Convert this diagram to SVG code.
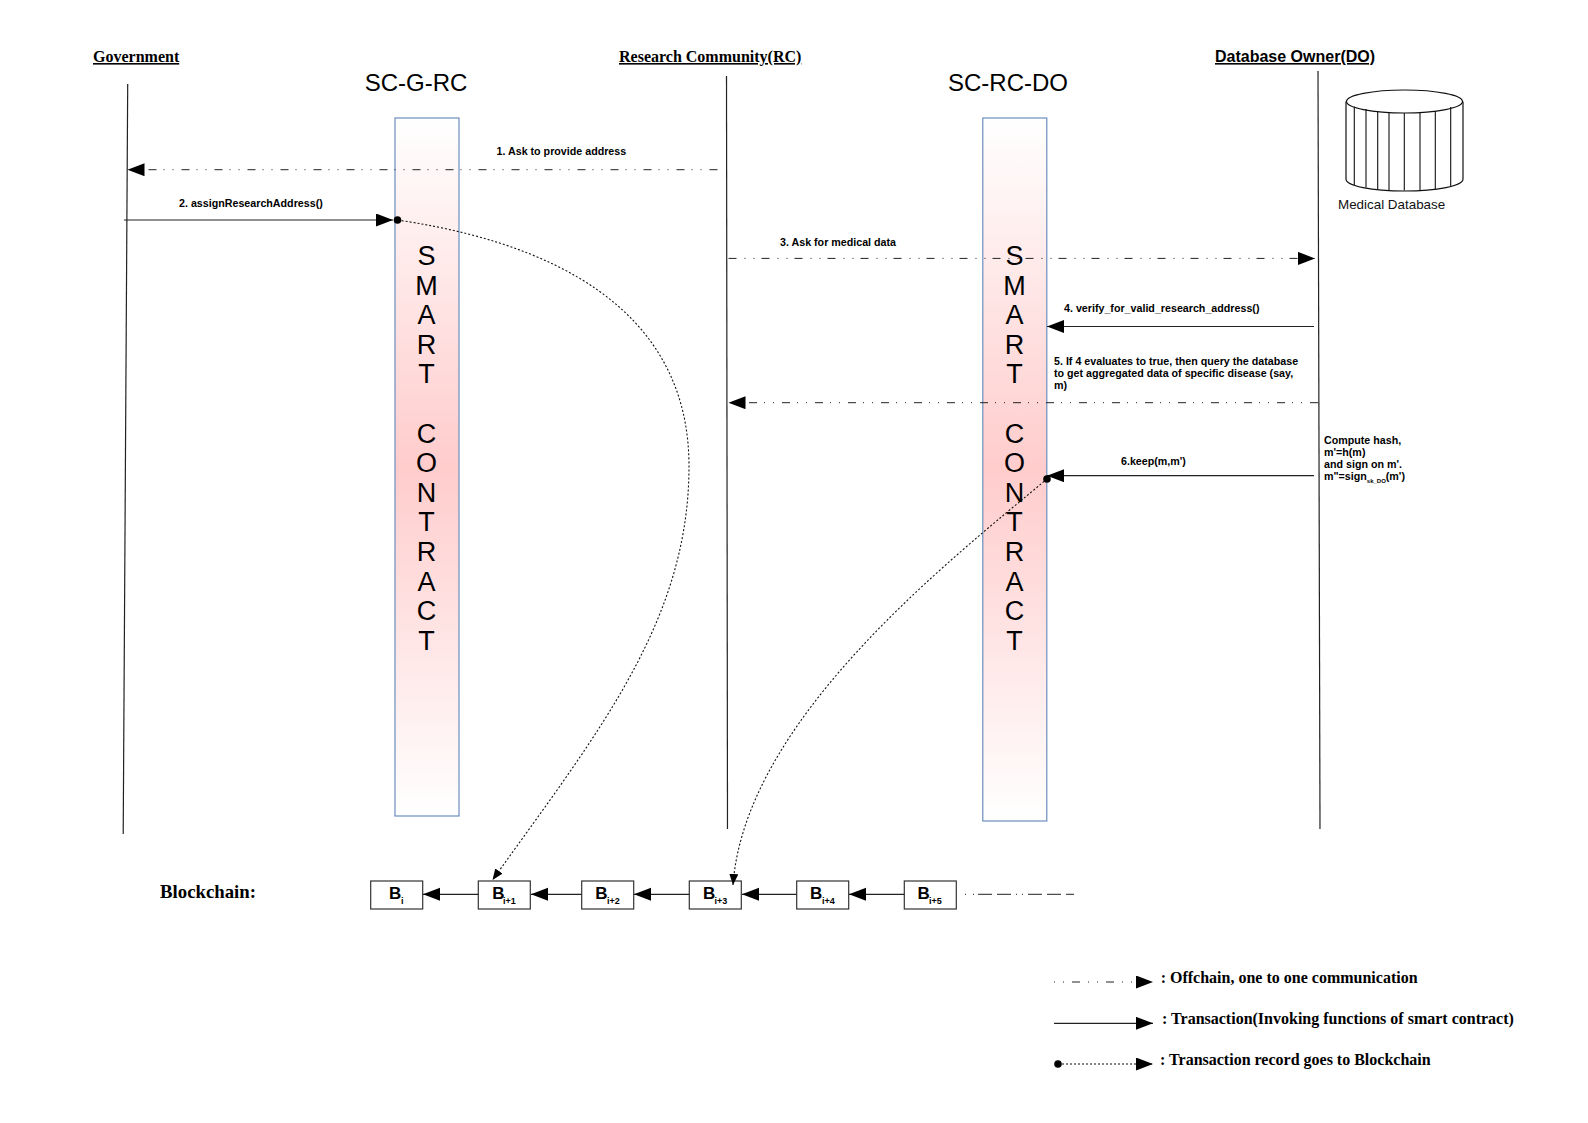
<svg xmlns="http://www.w3.org/2000/svg" width="1588" height="1123" viewBox="0 0 1588 1123">
<style>
.lab{font:bold 10.7px "Liberation Sans",Arial,sans-serif;fill:#000}
.hd{font:bold 16px "Liberation Serif",serif;fill:#000;text-decoration:underline}
.hds{font:bold 16px "Liberation Sans",sans-serif;fill:#000;text-decoration:underline}
.title{font:24px "Liberation Sans",sans-serif;fill:#000;text-anchor:middle}
.sc{font:27px "Liberation Sans",sans-serif;fill:#000;text-anchor:middle}
.leg{font:bold 16px "Liberation Serif",serif;fill:#000}
.bl{font:bold 17px "Liberation Sans",sans-serif;fill:#000}
.sub{font:bold 9px "Liberation Sans",sans-serif;fill:#000}
.life{stroke:#222;stroke-width:1.2;fill:none}
.solid{stroke:#222;stroke-width:1.2;fill:none}
.off{stroke:#222;stroke-width:1;fill:none;stroke-dasharray:8 8 1 8 1 7}
.rec{stroke:#111;stroke-width:1.1;fill:none;stroke-dasharray:2 2}
.box{fill:url(#g);stroke:#6c8ebf;stroke-width:1.2}
.blk{fill:#fff;stroke:#333;stroke-width:1.2}
.db{fill:#fff;stroke:#111;stroke-width:1.2}
.dbl{stroke:#111;stroke-width:1.1;fill:none}
</style>
<defs>
<linearGradient id="g" x1="0" y1="0" x2="0" y2="1">
<stop offset="0" stop-color="#fff"/><stop offset="0.5" stop-color="#ffcccc"/><stop offset="1" stop-color="#fff"/>
</linearGradient>
<marker id="a" markerUnits="userSpaceOnUse" markerWidth="18" markerHeight="14" refX="17" refY="6.5" orient="auto"><path d="M0 0L17 6.5L0 13z" fill="#000"/></marker>
<marker id="s" markerUnits="userSpaceOnUse" markerWidth="12" markerHeight="10" refX="11" refY="4.5" orient="auto"><path d="M0 0L11 4.5L0 9z" fill="#000"/></marker>
<marker id="d" markerUnits="userSpaceOnUse" markerWidth="9" markerHeight="9" refX="4.5" refY="4.5"><circle cx="4.5" cy="4.5" r="3.8" fill="#000"/></marker>
</defs>
<rect width="1588" height="1123" fill="#fff"/>
<g id="government"><text class="hd" x="93" y="62">Government</text><path class="life" d="M127.7 84L123.2 834"/></g>
<g id="research-community"><text class="hd" x="619" y="62">Research Community(RC)</text><path class="life" d="M726.5 76L727.5 829"/></g>
<g id="database-owner"><text class="hds" x="1215" y="62">Database Owner(DO)</text><path class="life" d="M1318 71L1320 829"/></g>
<g id="sc-g-rc"><text class="title" x="416" y="91">SC-G-RC</text><rect class="box" x="395" y="118" width="64" height="698"/>
<text class="sc"><tspan x="426.6" y="265">S</tspan><tspan x="426.6" y="294.6">M</tspan><tspan x="426.6" y="324.2">A</tspan><tspan x="426.6" y="353.8">R</tspan><tspan x="426.6" y="383.4">T</tspan><tspan x="426.6" y="442.6">C</tspan><tspan x="426.6" y="472.2">O</tspan><tspan x="426.6" y="501.8">N</tspan><tspan x="426.6" y="531.4">T</tspan><tspan x="426.6" y="561">R</tspan><tspan x="426.6" y="590.6">A</tspan><tspan x="426.6" y="620.2">C</tspan><tspan x="426.6" y="649.8">T</tspan></text></g>
<g id="sc-rc-do"><text class="title" x="1008" y="91">SC-RC-DO</text><rect class="box" x="982.8" y="118" width="64" height="703"/>
<text class="sc"><tspan x="1014.4" y="265">S</tspan><tspan x="1014.4" y="294.6">M</tspan><tspan x="1014.4" y="324.2">A</tspan><tspan x="1014.4" y="353.8">R</tspan><tspan x="1014.4" y="383.4">T</tspan><tspan x="1014.4" y="442.6">C</tspan><tspan x="1014.4" y="472.2">O</tspan><tspan x="1014.4" y="501.8">N</tspan><tspan x="1014.4" y="531.4">T</tspan><tspan x="1014.4" y="561">R</tspan><tspan x="1014.4" y="590.6">A</tspan><tspan x="1014.4" y="620.2">C</tspan><tspan x="1014.4" y="649.8">T</tspan></text></g>
<g id="medical-database">
<path class="db" d="M1346 102V179C1346 186 1372 191 1404.5 191C1437 191 1463 186 1463 179V102z"/>
<ellipse class="db" cx="1404.5" cy="101.5" rx="58" ry="11.5"/>
<path class="dbl" d="M1354.3 106.5V185M1366 109V187.5M1377.7 111V189M1389 112V190M1404.3 113V190.5M1420 112V190M1435.3 111V189M1450.7 107V186"/>
<text x="1338" y="209" style="font:13.4px 'Liberation Sans',sans-serif;fill:#111">Medical Database</text></g>
<g id="blockchain">
<text x="160" y="898" style="font:bold 18.8px 'Liberation Serif',serif;fill:#000">Blockchain:</text>
<g id="b0"><rect class="blk" x="370.7" y="881" width="52" height="28"/><text class="bl" x="389" y="898.5">B</text><text class="sub" x="401" y="904">i</text></g>
<g id="b1"><rect class="blk" x="478.3" y="881" width="52" height="28"/><text class="bl" x="492.3" y="898.5">B</text><text class="sub" x="503" y="904">i+1</text></g>
<g id="b2"><rect class="blk" x="581.7" y="881" width="52" height="28"/><text class="bl" x="595.3" y="898.5">B</text><text class="sub" x="607" y="904">i+2</text></g>
<g id="b3"><rect class="blk" x="689.3" y="881" width="52" height="28"/><text class="bl" x="703" y="898.5">B</text><text class="sub" x="714.5" y="904">i+3</text></g>
<g id="b4"><rect class="blk" x="796.7" y="881" width="52" height="28"/><text class="bl" x="810" y="898.5">B</text><text class="sub" x="822" y="904">i+4</text></g>
<g id="b5"><rect class="blk" x="904.3" y="881" width="52" height="28"/><text class="bl" x="917.5" y="898.5">B</text><text class="sub" x="929" y="904">i+5</text></g>
</g>
<g id="connectors">
<path class="off" d="M717.5 169.7H127.5" marker-end="url(#a)"/>
<path class="solid" d="M124 220H393" marker-end="url(#a)"/>
<path class="rec" d="M397.5 220C600 250 689 340 689 466C689 620 600 730 492.5 880" marker-start="url(#d)" marker-end="url(#s)"/>
<path class="off" d="M728.5 258.4H1315" marker-end="url(#a)"/>
<path class="solid" d="M1314 326.5H1047" marker-end="url(#a)"/>
<path class="off" d="M1318 402.7H728.5" marker-end="url(#a)"/>
<path class="solid" d="M1314 475.7H1047" marker-end="url(#a)"/>
<path class="rec" d="M1047 479C950 560 745 720 733 885" marker-start="url(#d)" marker-end="url(#s)"/>
<path class="solid" d="M478.3 894.3H423" marker-end="url(#a)"/>
<path class="solid" d="M581.7 894.3H531" marker-end="url(#a)"/>
<path class="solid" d="M689.3 894.3H634" marker-end="url(#a)"/>
<path class="solid" d="M796.7 894.3H742" marker-end="url(#a)"/>
<path class="solid" d="M904.3 894.3H849" marker-end="url(#a)"/>
<path class="solid" style="stroke-width:1;stroke-dasharray:1 7 1 4 14 5 14 5 1 5 1 5 14 5 14 5 14" d="M965 894.3H1074"/>
<path class="off" style="stroke-dasharray:1 8 1 8 8 8" d="M1054 982H1153" marker-end="url(#a)"/>
<path class="solid" d="M1054 1023.3H1153" marker-end="url(#a)"/>
<path class="rec" d="M1058 1064H1153" marker-start="url(#d)" marker-end="url(#a)"/>
</g>
<g id="labels">
<text class="lab" x="496.5" y="155">1. Ask to provide address</text>
<text class="lab" x="179" y="207">2. assignResearchAddress()</text>
<text class="lab" x="780" y="246">3. Ask for medical data</text>
<text class="lab" x="1064" y="312">4. verify_for_valid_research_address()</text>
<text class="lab"><tspan x="1054" y="365">5. If 4 evaluates to true, then query the database</tspan><tspan x="1054" y="377">to get aggregated data of specific disease (say,</tspan><tspan x="1054" y="389">m)</tspan></text>
<text class="lab" x="1121" y="465">6.keep(m,m')</text>
<text class="lab"><tspan x="1324" y="444">Compute hash,</tspan><tspan x="1324" y="456">m'=h(m)</tspan><tspan x="1324" y="468">and sign on m'.</tspan><tspan x="1324" y="480">m"=sign</tspan><tspan y="483" style="font-size:6px">sk_DO</tspan><tspan y="480">(m')</tspan></text>
<text class="leg" x="1160.7" y="983">: Offchain, one to one communication</text>
<text class="leg" x="1162" y="1024">: Transaction(Invoking functions of smart contract)</text>
<text class="leg" x="1160" y="1065">: Transaction record goes to Blockchain</text>
</g>
</svg>
